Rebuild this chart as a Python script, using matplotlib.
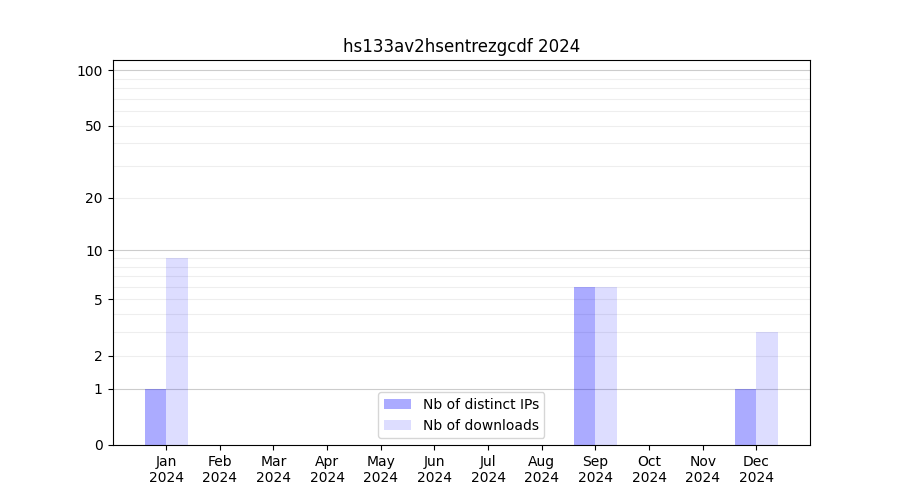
"""
Monthly downloads / distinct IPs for one package, log(1+x) y axis.
"""
import numpy as np
import matplotlib
matplotlib.use("Agg")
import matplotlib.pyplot as plt

package = "hs133av2hsentrezgcdf"
year = 2024
months = ["Jan", "Feb", "Mar", "Apr", "May", "Jun",
          "Jul", "Aug", "Sep", "Oct", "Nov", "Dec"]
distinct_ips = [1, 0, 0, 0, 0, 0, 0, 0, 6, 0, 0, 1]
downloads = [9, 0, 0, 0, 0, 0, 0, 0, 6, 0, 0, 3]

major_ticks = [0, 1, 2, 5, 10, 20, 50, 100]
minor_ticks = [3, 4, 6, 7, 8, 9, 30, 40, 60, 70, 80, 90]
dark_grid = [1, 10, 100]

W = 0.4


def fwd(y):
    return np.log10(1 + np.clip(y, 0, None))


def inv(y):
    return 10 ** y - 1


x = np.arange(1, len(months) + 1)

fig, ax = plt.subplots(figsize=(9, 5), dpi=100)
ax.set_yscale("function", functions=(fwd, inv))
ax.set_axisbelow(True)

ax.bar(x - W / 2, distinct_ips, W, color="blue", alpha=0.33, label="Nb of distinct IPs")
ax.bar(x + W / 2, downloads, W, color="blue", alpha=0.135, label="Nb of downloads")

ax.set_yticks(major_ticks)
ax.set_yticklabels([str(t) for t in major_ticks])
ax.set_yticks(minor_ticks, minor=True)
ax.tick_params(axis="y", which="minor", length=0)
ax.set_ylim(0, 113.5)

ax.grid(True, axis="y", which="both", color="#eeeeee", lw=0.8)
for t, gl in zip(major_ticks, ax.yaxis.get_gridlines()):
    if t in dark_grid:
        gl.set_color("#cccccc")

ax.set_xticks(x)
ax.set_xticklabels([f"{m}\n{year}" for m in months])
ax.set_xlim(0, 13)

ax.set_title(f"{package} {year}")
ax.legend(loc="lower center")

fig.savefig("out.png")
